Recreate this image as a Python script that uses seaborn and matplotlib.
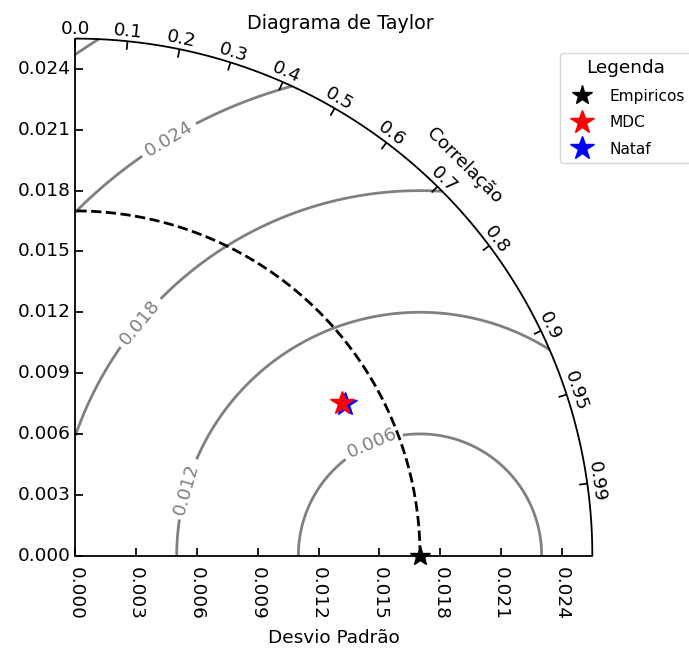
import numpy as np
import matplotlib
matplotlib.use("Agg")
import matplotlib.pyplot as plt
import seaborn as sns
from matplotlib.projections import PolarAxes
import mpl_toolkits.axisartist.floating_axes as FA
import mpl_toolkits.axisartist.grid_finder as GF

# ---- data -------------------------------------------------------------
ref_label = "Empiricos"
ref_std = 0.0170

model_labels = ["MDC", "Nataf"]
model_std = [0.01516, 0.01523]
model_corr = [0.8675, 0.8719]
model_colors = ["red", "blue"]

corr_ticks = [0.0, 0.1, 0.2, 0.3, 0.4, 0.5, 0.6, 0.7, 0.8, 0.9, 0.95, 0.99]
std_ticks = [0.000, 0.003, 0.006, 0.009, 0.012, 0.015, 0.018, 0.021, 0.024]
rms_levels = [0.006, 0.012, 0.018, 0.024, 0.030]
rms_labelled = [0.006, 0.012, 0.018, 0.024]

# ---- style ------------------------------------------------------------
sns.set_theme(style="white")
plt.rcParams.update({
    "font.family": ["DejaVu Sans"],
    "text.color": "black",
    "axes.labelcolor": "black",
    "axes.edgecolor": "black",
    "xtick.color": "black",
    "ytick.color": "black",
})
FS = 13.3

fig = plt.figure(figsize=(6.89, 6.48), dpi=100)

try:
    tr = PolarAxes.PolarTransform(apply_theta_transforms=False)
except TypeError:
    tr = PolarAxes.PolarTransform()

smax = 1.5 * ref_std
tlocs = np.arccos(corr_ticks)
gl1 = GF.FixedLocator(tlocs)
tf1 = GF.DictFormatter(dict(zip(tlocs, [str(c) for c in corr_ticks])))
gl2 = GF.FixedLocator(std_ticks)
tf2 = GF.DictFormatter({s: f"{s:.3f}" for s in std_ticks})

gh = FA.GridHelperCurveLinear(tr, extremes=(0, np.pi / 2, 0, smax),
                              grid_locator1=gl1, tick_formatter1=tf1,
                              grid_locator2=gl2, tick_formatter2=tf2)
ax = fig.add_axes([0.1019, 0.1333, 0.7653, 0.8165],
                  axes_class=FA.FloatingAxes, grid_helper=gh)

# correlation (angle) axis
ax.axis["top"].set_axis_direction("bottom")
ax.axis["top"].toggle(ticklabels=True, label=True)
ax.axis["top"].major_ticklabels.set_axis_direction("top")
ax.axis["top"].label.set_axis_direction("top")
ax.axis["top"].label.set_text("Correlação")

# standard deviation along x, labels turned to read downwards
ax.axis["left"].set_axis_direction("bottom")
ax.axis["left"].label.set_text("Desvio Padrão")
xtl = ax.axis["left"].major_ticklabels
xtl.set_rotation(-90)
xtl.set_ha("left")
xtl.set_va("center")

# standard deviation along y
ax.axis["right"].set_axis_direction("top")
ax.axis["right"].toggle(ticklabels=True)
ax.axis["right"].major_ticklabels.set_axis_direction("left")
ax.axis["bottom"].set_visible(False)

for side in ["top", "left", "right"]:
    ax.axis[side].major_ticklabels.set_fontsize(FS)
    ax.axis[side].label.set_fontsize(FS)
    ax.axis[side].line.set_linewidth(1.3)

ax.axis["left"].label.set_pad(40)

ax.set_title("Diagrama de Taylor", fontsize=FS + 0.5, pad=3, x=0.513)

aux = ax.get_aux_axes(tr)

# centred RMS difference contours
rs, ts = np.meshgrid(np.linspace(0, smax, 300), np.linspace(0, np.pi / 2, 300))
rms = np.sqrt(ref_std ** 2 + rs ** 2 - 2 * ref_std * rs * np.cos(ts))
cs = aux.contour(ts, rs, rms, rms_levels, colors="0.5", linewidths=2)
label_spots = [(0.373, 0.01566), (0.524, 0.00649),
               (1.304, 0.01195), (1.3486, 0.02101)]
aux.clabel(cs, rms_labelled, inline=True, fontsize=FS, fmt="%.3f",
           manual=label_spots)

# reference standard deviation arc
t = np.linspace(0, np.pi / 2, 200)
aux.plot(t, np.full_like(t, ref_std), ls="--", color="black", lw=2)

# reference point
h_ref, = aux.plot([0.0], [ref_std], ls="", marker="*", color="black",
                  mec="black", ms=15, clip_on=False, zorder=5,
                  label=ref_label)

# model points: earlier entries drawn on top
handles = [h_ref]
n = len(model_labels)
for i, (lab, s, c, col) in enumerate(zip(model_labels, model_std,
                                         model_corr, model_colors)):
    h, = aux.plot([np.arccos(c)], [s], marker="*", ls="", ms=17.5,
                  color=col, mec=col, zorder=6 + n - i, label=lab)
    handles.append(h)

leg = fig.legend(handles, [h.get_label() for h in handles],
                 loc="upper left", bbox_to_anchor=(560 / 689, 1 - 53 / 648),
                 borderaxespad=0, labelspacing=0.75,
                 title="Legenda", fontsize=11.1, title_fontsize=FS,
                 numpoints=1, frameon=True, fancybox=True)
leg.get_frame().set_edgecolor("0.8")

fig.savefig("out.png", dpi=100)
